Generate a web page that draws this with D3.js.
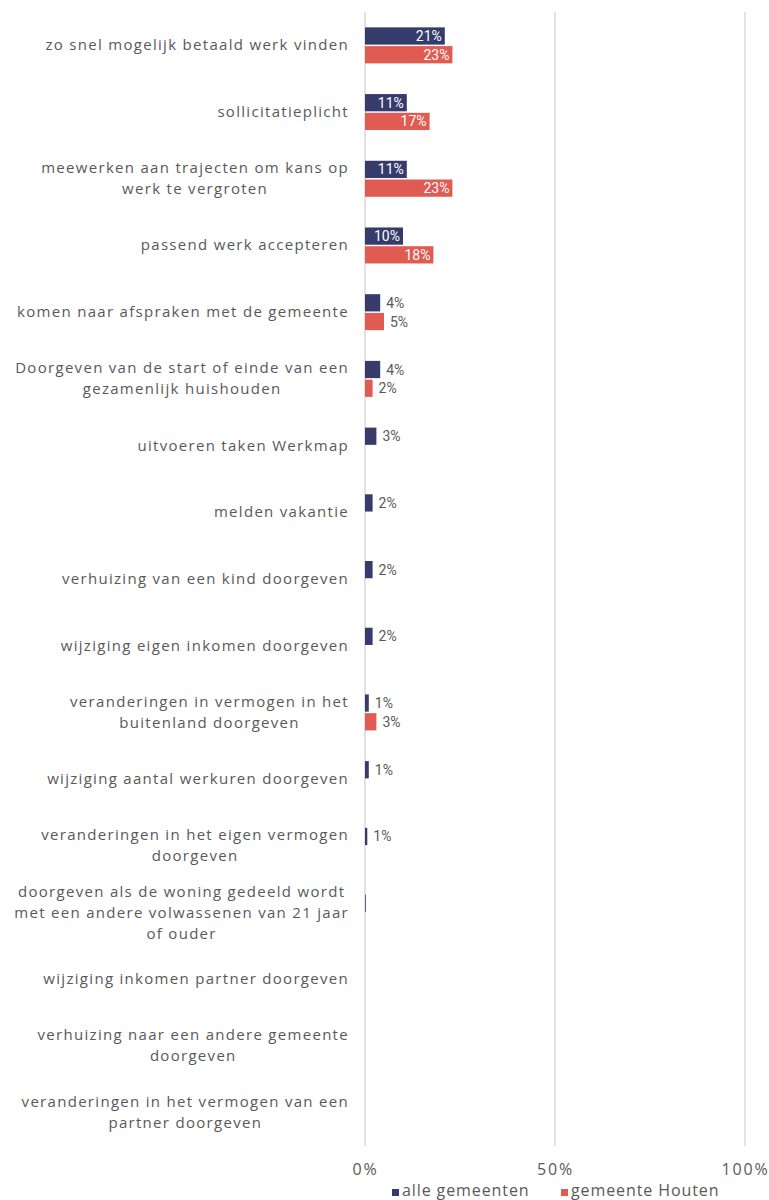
<!DOCTYPE html>
<html>
<head>
<meta charset="utf-8">
<script src="https://cdn.jsdelivr.net/npm/d3@7"></script>
<style>
  body { margin: 0; background: #ffffff; }
  svg { display: block; }
</style>
</head>
<body>
<div id="chart"></div>
<script>
// categories (line breaks as in the original labels)
var categories = [
  ["zo snel mogelijk betaald werk vinden"],
  ["sollicitatieplicht"],
  ["meewerken aan trajecten om kans op", "werk te vergroten"],
  ["passend werk accepteren"],
  ["komen naar afspraken met de gemeente"],
  ["Doorgeven van de start of einde van een", "gezamenlijk huishouden"],
  ["uitvoeren taken Werkmap"],
  ["melden vakantie"],
  ["verhuizing van een kind doorgeven"],
  ["wijziging eigen inkomen doorgeven"],
  ["veranderingen in vermogen in het", "buitenland doorgeven"],
  ["wijziging aantal werkuren doorgeven"],
  ["veranderingen in het eigen vermogen", "doorgeven"],
  ["doorgeven als de woning gedeeld wordt", "met een andere volwassenen van 21 jaar", "of ouder"],
  ["wijziging inkomen partner doorgeven"],
  ["verhuizing naar een andere gemeente", "doorgeven"],
  ["veranderingen in het vermogen van een", "partner doorgeven"]
];

// percentages
var alleGemeenten = [21, 11, 11, 10, 4, 4, 3, 2, 2, 2, 1, 1, 0.6, 0.2, 0, 0, 0];
var gemeenteHouten = [23, 17, 23, 18, 5, 2, 0, 0, 0, 0, 3, 0, 0, 0, 0, 0, 0];

var seriesNames = ["alle gemeenten", "gemeente Houten"];
var seriesColors = ["#363b6b", "#e05b52"];
var xTicks = [0, 50, 100];

var width = 769, height = 1200;
var svg = d3.select("#chart").append("svg")
    .attr("width", width)
    .attr("height", height);

var textColor = "#595959";
var labelFont = "Open Sans, sans-serif";

var x = d3.scaleLinear().domain([0, 100]).range([365, 745]);
var y = d3.scaleBand().domain(d3.range(categories.length)).range([12, 1146]);
var ySub = d3.scaleBand().domain([0, 1]).range([-18, 18]).paddingInner(0.08);

// gridlines
svg.append("g")
  .selectAll("line")
  .data(xTicks)
  .enter().append("line")
    .attr("x1", function(d) { return x(d); })
    .attr("x2", function(d) { return x(d); })
    .attr("y1", 12)
    .attr("y2", 1146)
    .style("stroke", "#d9d9d9")
    .style("stroke-width", 1.5);

// x axis tick labels
var xAxis = svg.append("g")
    .attr("transform", "translate(0,1146)")
    .call(d3.axisBottom(x).tickValues(xTicks).tickSize(0).tickPadding(18)
      .tickFormat(function(d) { return d + "%"; }));
xAxis.select(".domain").remove();
xAxis.selectAll("text")
    .style("font-family", labelFont)
    .style("font-size", "16px")
    .style("letter-spacing", "1.8px")
    .style("fill", textColor);

// category labels
var cats = svg.append("g").selectAll("text")
  .data(categories)
  .enter().append("text")
    .style("font-family", labelFont)
    .style("font-size", "15px")
    .style("letter-spacing", "1.3px")
    .style("fill", textColor);

cats.each(function(lines, i) {
  var t = d3.select(this);
  var cy = y(i) + y.bandwidth() / 2;
  var lh = 21;
  lines.forEach(function(line, j) {
    t.append("tspan")
      .attr("text-anchor", "middle")
      .attr("y", cy + (j - (lines.length - 1) / 2) * lh + 5)
      .text(line);
  });
});
// centre every label block on its widest line, right edge at 349
cats.each(function() {
  var t = d3.select(this);
  var w = 0;
  t.selectAll("tspan").each(function() { w = Math.max(w, this.getComputedTextLength()); });
  t.selectAll("tspan").attr("x", 349 - w / 2);
});

// bars
var series = [alleGemeenten, gemeenteHouten];
series.forEach(function(values, s) {
  var g = svg.append("g");
  g.selectAll("rect")
    .data(values)
    .enter().append("rect")
      .attr("x", x(0))
      .attr("y", function(d, i) { return y(i) + y.bandwidth() / 2 + ySub(s); })
      .attr("width", function(d) { return x(d) - x(0); })
      .attr("height", ySub.bandwidth())
      .style("fill", seriesColors[s]);

  // data labels, inside the bar end when it fits, else just outside
  values.forEach(function(d, i) {
    if (Math.round(d) < 1) return;
    var inside = d >= 10;
    g.append("text")
      .attr("x", inside ? x(d) - 3 : x(d) + 6)
      .attr("y", y(i) + y.bandwidth() / 2 + ySub(s) + ySub.bandwidth() / 2 + 5)
      .attr("text-anchor", inside ? "end" : "start")
      .style("font-family", "Roboto, sans-serif")
      .style("font-size", "14px")
      .style("fill", inside ? "#ffffff" : textColor)
      .text(Math.round(d) + "%");
  });
});

// legend
var legend = svg.append("g").attr("transform", "translate(392,1196)");
var legendX = [0, 169];
seriesNames.forEach(function(name, s) {
  var item = legend.append("g").attr("transform", "translate(" + legendX[s] + ",0)");
  item.append("rect")
    .attr("x", 0).attr("y", -7)
    .attr("width", 7).attr("height", 7)
    .style("fill", seriesColors[s]);
  item.append("text")
    .attr("x", 10)
    .style("font-family", labelFont)
    .style("font-size", "16px")
    .style("letter-spacing", "0.9px")
    .style("fill", textColor)
    .text(name);
});
</script>
</body>
</html>
